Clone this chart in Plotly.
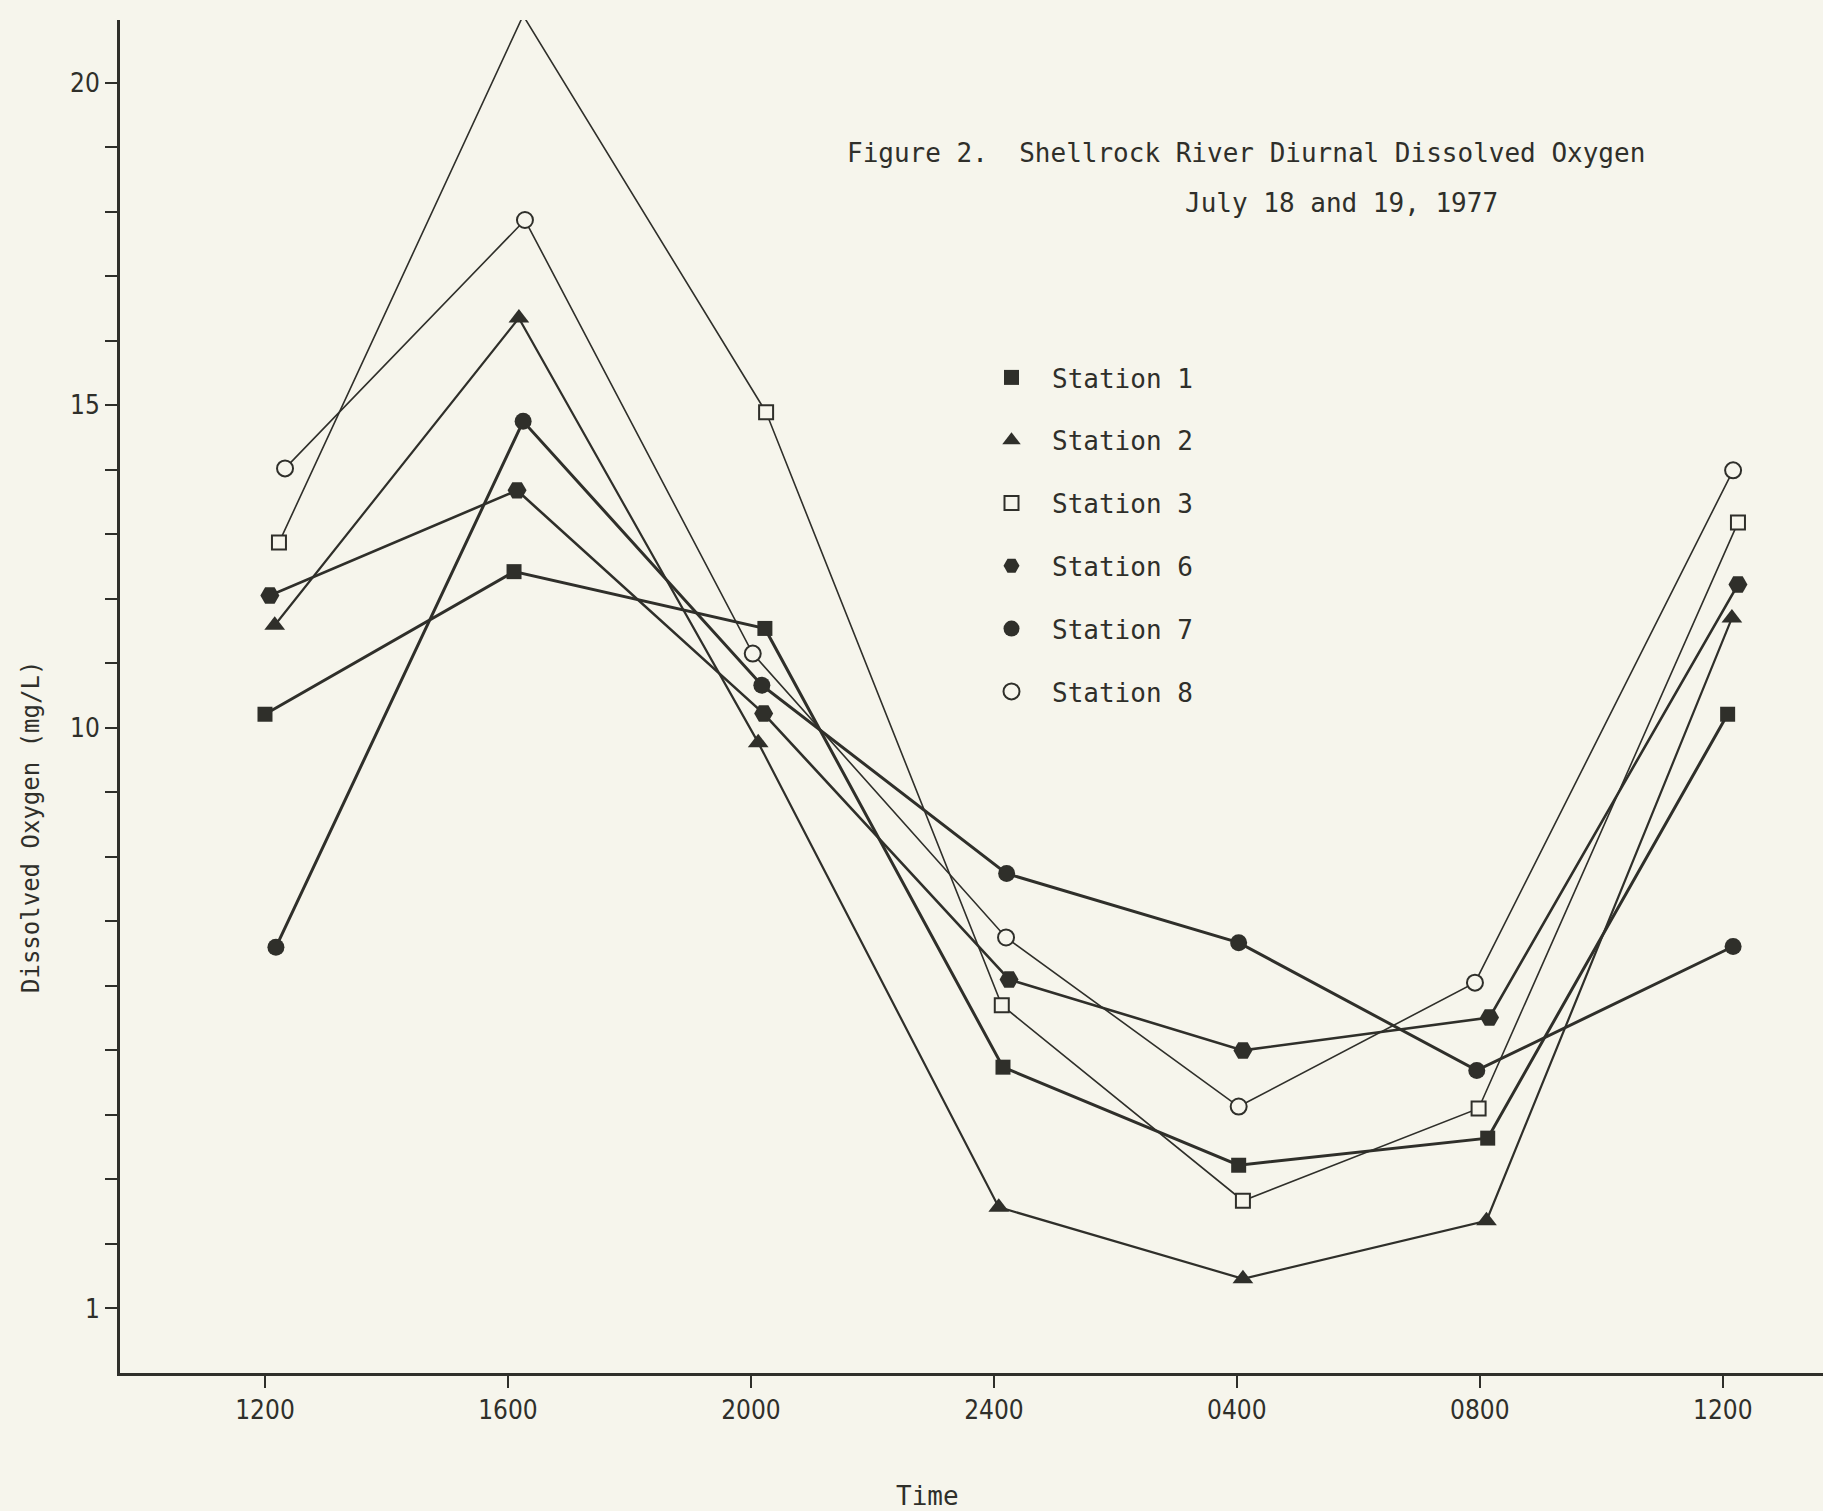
import plotly.graph_objects as go

tick_hours = [0, 4, 8, 12, 16, 20, 24]
tick_labels = ["1200", "1600", "2000", "2400", "0400", "0800", "1200"]

st1_t = [0.00, 4.10, 8.23, 12.15, 16.03, 20.13, 24.08]
st1_do = [10.21, 12.42, 11.54, 4.74, 3.22, 3.64, 10.21]

st2_t = [0.16, 4.18, 8.12, 12.08, 16.10, 20.11, 24.15]
st2_do = [11.59, 16.35, 9.77, 2.57, 1.46, 2.36, 11.70]

st3_t = [0.23, 4.25, 8.25, 12.13, 16.10, 19.98, 24.25]
st3_do = [12.87, 21.04, 14.89, 5.70, 2.67, 4.10, 13.18]

st6_t = [0.08, 4.15, 8.21, 12.25, 16.10, 20.16, 24.25]
st6_do = [12.05, 13.68, 10.22, 6.10, 5.00, 5.51, 12.22]

st7_t = [0.18, 4.25, 8.18, 12.21, 16.03, 19.95, 24.17]
st7_do = [6.60, 14.75, 10.66, 7.74, 6.67, 4.69, 6.61]

st8_t = [0.33, 4.28, 8.03, 12.20, 16.03, 19.92, 24.17]
st8_do = [14.02, 17.87, 11.15, 6.75, 4.13, 6.05, 13.99]

y_tickvals = list(range(1, 21))
y_labelled = {1: "1", 10: "10", 15: "15", 20: "20"}
y_ticktext = [y_labelled.get(v, "") for v in y_tickvals]

INK = "#2f2f2a"
BG = "#f6f5ec"
FONT = "DejaVu Sans Mono"
TICKFONT = "Liberation Sans Narrow, DejaVu Sans Condensed, DejaVu Sans Mono"

stations = [
    ("Station 1", st1_t, st1_do, dict(symbol="square", size=15, color=INK, line=dict(width=0)), 3.0),
    ("Station 2", st2_t, st2_do, dict(symbol="triangle-up", size=18, color=INK, line=dict(width=0)), 2.2),
    ("Station 3", st3_t, st3_do, dict(symbol="square", size=14, color=BG, line=dict(width=2, color=INK)), 1.6),
    ("Station 6", st6_t, st6_do, dict(symbol="hexagon2", size=19, color=INK, line=dict(width=0)), 2.6),
    ("Station 7", st7_t, st7_do, dict(symbol="circle", size=17, color=INK, line=dict(width=0)), 3.0),
    ("Station 8", st8_t, st8_do, dict(symbol="circle", size=16, color=BG, line=dict(width=2, color=INK)), 1.6),
]

fig = go.Figure()
for name, t, do, mk, lw in stations:
    fig.add_trace(go.Scatter(
        x=t, y=do, mode="lines+markers", name=name, showlegend=False,
        line=dict(color=INK, width=lw), marker=mk, cliponaxis=False,
    ))
for name, t, do, mk, lw in stations:
    fig.add_trace(go.Scatter(
        x=[None], y=[None], mode="markers", name=name, legendgroup=name,
        marker=mk, showlegend=True,
    ))

W, H = 1823, 1511
L, R, T, B = 120, 0, 20, 138
pw = W - L - R
ph = H - T - B

def px(xp):
    return (xp - L) / pw

def py(yp):
    return (H - B - yp) / ph

fig.update_layout(
    width=W, height=H,
    margin=dict(l=L, r=R, t=T, b=B),
    paper_bgcolor=BG, plot_bgcolor=BG,
    font=dict(family=FONT, color=INK, size=22),
    showlegend=True,
    legend=dict(
        x=px(971), y=py(354), xanchor="left", yanchor="top",
        bgcolor="rgba(0,0,0,0)", font=dict(family=FONT, size=26, color=INK),
        traceorder="grouped", tracegroupgap=26, itemwidth=71,
    ),
    xaxis=dict(
        range=[-2.387, 25.65], tickmode="array", tickvals=tick_hours, ticktext=tick_labels,
        showgrid=False, zeroline=False, showline=True, linecolor=INK, linewidth=3,
        ticks="outside", ticklen=12, tickwidth=2, tickcolor=INK,
        tickfont=dict(family=TICKFONT, size=26, color=INK),
    ),
    yaxis=dict(
        range=[0, 20.97], tickmode="array", tickvals=y_tickvals, ticktext=y_ticktext,
        showgrid=False, zeroline=False, showline=True, linecolor=INK, linewidth=3,
        ticks="outside", ticklen=12, tickwidth=2, tickcolor=INK,
        tickfont=dict(family=TICKFONT, size=26, color=INK),
    ),
    annotations=[
        dict(text="Figure 2.  Shellrock River Diurnal Dissolved Oxygen", xref="paper", yref="paper",
             x=px(845), y=py(153), xanchor="left", yanchor="middle", showarrow=False,
             font=dict(family=FONT, size=26, color=INK)),
        dict(text="July 18 and 19, 1977", xref="paper", yref="paper",
             x=px(1183), y=py(203), xanchor="left", yanchor="middle", showarrow=False,
             font=dict(family=FONT, size=26, color=INK)),
        dict(text="Dissolved Oxygen (mg/L)", xref="paper", yref="paper", textangle=-90,
             x=px(31), y=py(827), xanchor="center", yanchor="middle", showarrow=False,
             font=dict(family=FONT, size=24, color=INK)),
        dict(text="Time", xref="paper", yref="paper",
             x=px(927), y=py(1496), xanchor="center", yanchor="middle", showarrow=False,
             font=dict(family=FONT, size=26, color=INK)),
    ],
)

fig.write_html(
    "out.html",
    config={"displayModeBar": False},
    post_script="document.body.style.margin='0';document.body.style.background='" + BG + "';",
)
